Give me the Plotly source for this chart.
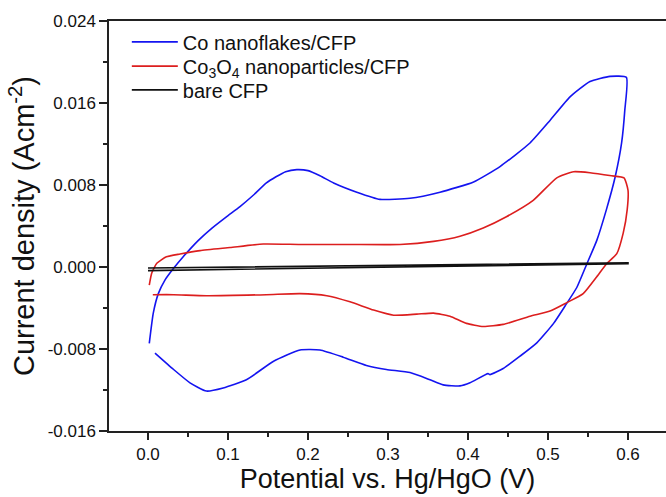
import plotly.graph_objects as go

# Co nanoflakes/CFP (forward then reverse scan)
co_x = [0.0016, 0.0066, 0.0129, 0.021, 0.032, 0.044, 0.063, 0.080, 0.098, 0.115, 0.133, 0.148, 0.160, 0.172, 0.186, 0.200, 0.215, 0.232, 0.261, 0.290, 0.3275, 0.365, 0.407, 0.440, 0.4775, 0.5025, 0.5275, 0.5525, 0.5775, 0.598,
        0.596, 0.592, 0.584, 0.573, 0.561, 0.548, 0.536, 0.523, 0.507, 0.486, 0.465, 0.444, 0.4275, 0.425, 0.4025, 0.390, 0.369, 0.3525, 0.3275, 0.298, 0.273, 0.244, 0.215, 0.190, 0.157, 0.123, 0.094, 0.073, 0.0525, 0.032, 0.00875]
co_y = [-0.00745, -0.0045, -0.0026, -0.0013, -0.00013, 0.0010, 0.0026, 0.0038, 0.0049, 0.0059, 0.0071, 0.0082, 0.0088, 0.0093, 0.0095, 0.0094, 0.0089, 0.0082, 0.0073, 0.0066, 0.0067, 0.0073, 0.0083, 0.0098, 0.0121, 0.0143, 0.0166, 0.0181, 0.0186, 0.0185,
        0.0153, 0.0121, 0.0088, 0.0056, 0.0026, 0.0002, -0.0020, -0.0036, -0.0055, -0.0074, -0.0087, -0.0099, -0.0105, -0.0104, -0.0113, -0.0116, -0.0115, -0.0110, -0.0103, -0.0100, -0.0096, -0.0088, -0.0081, -0.0081, -0.0092, -0.0110, -0.0118, -0.0121, -0.0113, -0.0100, -0.0084]

# Co3O4 nanoparticles/CFP
co3o4_x = [0.0016, 0.0046, 0.011, 0.023, 0.040, 0.065, 0.1025, 0.144, 0.190, 0.250, 0.315, 0.357, 0.390, 0.419, 0.448, 0.4815, 0.511, 0.532, 0.5525, 0.5795, 0.595, 0.600,
           0.599, 0.594, 0.586, 0.573, 0.561, 0.544, 0.523, 0.5025, 0.4775, 0.444, 0.419, 0.398, 0.3775, 0.357, 0.336, 0.307, 0.282, 0.2525, 0.2235, 0.190, 0.148, 0.073, 0.032, 0.006]
co3o4_y = [-0.00176, -0.0006, 0.00036, 0.0010, 0.00127, 0.0016, 0.0019, 0.00224, 0.0022, 0.0022, 0.0022, 0.0025, 0.0030, 0.0038, 0.0049, 0.0065, 0.0087, 0.0093, 0.0092, 0.0089, 0.0087, 0.0075,
           0.0056, 0.0033, 0.0013, 0.0003, -0.00095, -0.0026, -0.0035, -0.0043, -0.0048, -0.0056, -0.0058, -0.0055, -0.0048, -0.0045, -0.0046, -0.0047, -0.0042, -0.0034, -0.0028, -0.0026, -0.0027, -0.0028, -0.0027, -0.0027]

# bare CFP
cfp_x = [0.0, 0.15, 0.30, 0.45, 0.60, 0.60, 0.45, 0.30, 0.15, 0.0]
cfp_y = [-0.0001, 0.00003, 0.00016, 0.00029, 0.00042, 0.00032, 0.00016, 0.0, -0.00017, -0.00035]

x_ticks = [0.0, 0.1, 0.2, 0.3, 0.4, 0.5, 0.6]
x_labels = ["0.0", "0.1", "0.2", "0.3", "0.4", "0.5", "0.6"]
y_ticks = [-0.016, -0.008, 0.0, 0.008, 0.016, 0.024]
y_labels = ["-0.016", "-0.008", "0.000", "0.008", "0.016", "0.024"]

font = "Arial, Liberation Sans, sans-serif"

fig = go.Figure()
fig.add_trace(go.Scatter(x=co_x, y=co_y, mode="lines", name="Co nanoflakes/CFP", legend="legend",
                         line=dict(color="#1414F0", width=1.6, shape="spline", smoothing=0.5)))
fig.add_trace(go.Scatter(x=co3o4_x, y=co3o4_y, mode="lines", legend="legend2",
                         name="Co<sub>3</sub>O<sub>4</sub> nanoparticles/CFP",
                         line=dict(color="#DC1E1E", width=1.6, shape="spline", smoothing=0.5)))
fig.add_trace(go.Scatter(x=cfp_x, y=cfp_y, mode="lines", name="bare CFP", legend="legend3",
                         line=dict(color="#111111", width=1.6)))

def leg(yc):
    return dict(x=0.032, y=yc, xanchor="left", yanchor="middle", itemwidth=46,
                bgcolor="rgba(0,0,0,0)", font=dict(size=20, family=font))

fig.update_layout(
    width=666, height=497,
    margin=dict(l=109, r=0, t=21, b=66),
    paper_bgcolor="white", plot_bgcolor="white",
    font=dict(family=font, color="#111111"),
    showlegend=True,
    legend=leg(0.949),
    legend2=leg(0.890),
    legend3=leg(0.832),
    xaxis=dict(range=[-0.04875, 0.6475], tickvals=x_ticks, ticktext=x_labels,
               ticks="outside", ticklen=7, tickwidth=1.5, tickcolor="#222",
               showline=True, linecolor="#222", linewidth=1.5, mirror=True,
               showgrid=False, zeroline=False, automargin=False,
               tickfont=dict(size=17),
               minor=dict(dtick=0.05, tick0=0.05, ticks="outside", ticklen=4, tickwidth=1.5, tickcolor="#222"),
               title=dict(text="Potential vs. Hg/HgO (V)", font=dict(size=27), standoff=4)),
    yaxis=dict(range=[-0.016, 0.024], tickvals=y_ticks, ticktext=y_labels,
               ticks="outside", ticklen=8, tickwidth=1.5, tickcolor="#222",
               showline=True, linecolor="#222", linewidth=1.5, mirror=False,
               showgrid=False, zeroline=False, automargin=False,
               tickfont=dict(size=17),
               minor=dict(dtick=0.004, tick0=0.0, ticks="outside", ticklen=4, tickwidth=1.5, tickcolor="#222"),
               title=dict(text="Current density (Acm<sup>-2</sup>)", font=dict(size=29), standoff=4)),
)

fig.write_html("out.html", config={"displayModeBar": False},
               post_script="document.body.style.margin='0px';")
